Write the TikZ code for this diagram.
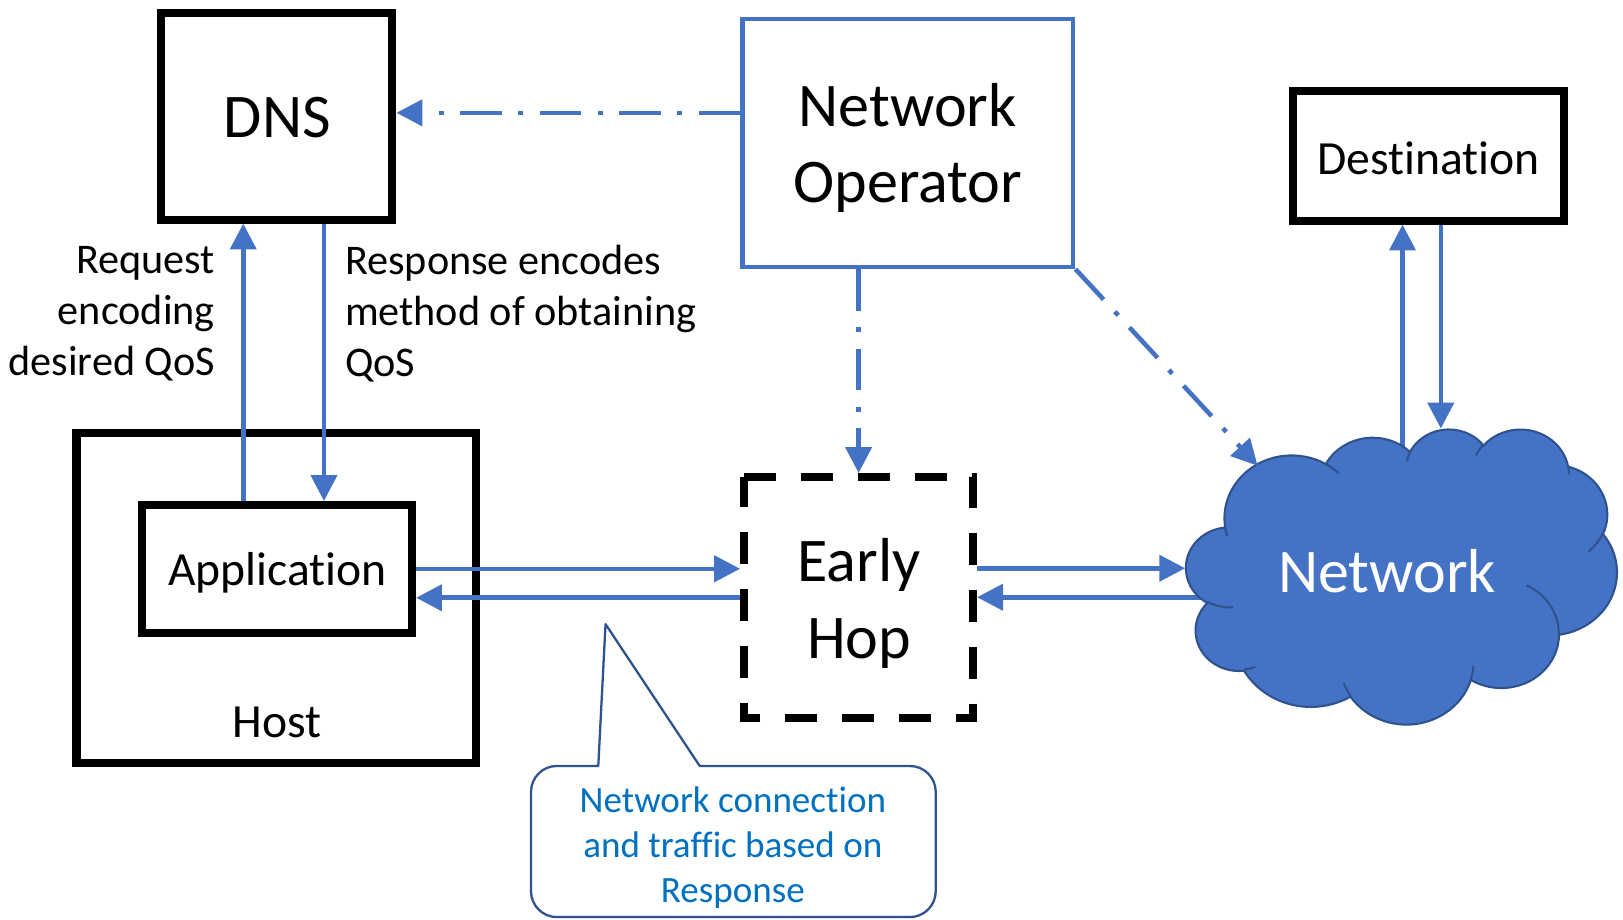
\documentclass[tikz,border=0pt]{standalone}
\usepackage{fontspec}
\setmainfont{Carlito}[Ligatures=NoCommon, Contextuals=NoAlternate]
\usetikzlibrary{arrows.meta}
\definecolor{lineblue}{HTML}{4472C4}
\definecolor{edgeblue}{HTML}{2F528F}
\definecolor{noteblue}{HTML}{0070C0}

% one elliptical arc of the cloud outline: converts a ray angle and sweep
% into the parametric start angle and delta angle used by TikZ's arc
\newcommand\cloudarc[6]{%
  \pgfmathsetmacro\cloudtmpa{atan2((#3)*sin(#5),(#4)*cos(#5))}%
  \pgfmathsetmacro\cloudtmpb{atan2((#3)*sin((#5)+(#6)),(#4)*cos((#5)+(#6)))}%
  \pgfmathsetmacro\cloudtmpd{\cloudtmpb-\cloudtmpa}%
  \pgfmathsetmacro\cloudtmpd{\cloudtmpd+360*((#6)>0)*(\cloudtmpd<0)-360*((#6)<0)*(\cloudtmpd>0)}%
  \xdef#1{\cloudtmpa}\xdef#2{\cloudtmpd}%
}

\begin{document}
\begin{tikzpicture}[x=0.5pt,y=-0.5pt,
  box/.style={draw=black, line width=3.9pt, inner sep=0pt},
  opbox/.style={draw=lineblue, line width=2.2pt, inner sep=0pt},
  hoparea/.style={inner sep=0pt, outer sep=0pt},
  hopline/.style={draw=black, line width=3.9pt, dash pattern=on 15.5pt off 12pt},
  bigtxt/.style={font=\fontsize{30}{37}\selectfont, align=center, inner sep=0pt},
  midtxt/.style={font=\fontsize{23}{28}\selectfont, inner sep=0pt},
  lbltxt/.style={font=\fontsize{20.4}{24.5}\selectfont, inner sep=0pt},
  notetxt/.style={font=\fontsize{17.9}{21.75}\selectfont, text=noteblue, align=center, inner sep=0pt},
  flow/.style={draw=lineblue, line width=2.2pt, -{Triangle[length=12.5pt,width=12.5pt]}},
  ctrl/.style={flow, dash pattern=on 20pt off 8pt on 2.4pt off 8pt}]
\useasboundingbox (0,0) rectangle (1568,888);

% ---------- cloud outline angles ----------
\cloudarc\cloudSA\cloudDA{67.53}{91.90}{-190.48748}{123.78053}
\cloudarc\cloudSB\cloudDB{53.33}{72.67}{-144.10238}{89.94523}
\cloudarc\cloudSC\cloudDC{43.65}{59.45}{-145.80792}{99.72302}
\cloudarc\cloudSD\cloudDD{48.57}{65.95}{-130.98607}{117.24173}
\cloudarc\cloudSE\cloudDE{53.33}{72.73}{-78.70888}{109.02692}
\cloudarc\cloudSF\cloudDF{67.75}{92.20}{-46.26725}{130.269}
\cloudarc\cloudSG\cloudDG{57.85}{78.67}{0.62502}{114.03333}
\cloudarc\cloudSH\cloudDH{67.52}{92.15}{22.4516}{115.17255}
\cloudarc\cloudSI\cloudDI{77.20}{105.43}{66.24263}{75.71102}
\cloudarc\cloudSJ\cloudDJ{43.60}{59.18}{-274.94208}{146.73557}
\cloudarc\cloudSK\cloudDK{43.45}{59.45}{-246.8285}{152.51885}
% inner crease arcs
\cloudarc\cloudSa\cloudDa{43.45}{59.45}{86.742}{26.4295}
\cloudarc\cloudSb\cloudDb{43.60}{59.18}{73.61047}{11.44747}
\cloudarc\cloudSc\cloudDc{67.52}{92.15}{137.62415}{14.0811}
\cloudarc\cloudSd\cloudDd{67.52}{92.15}{6.45327}{15.99835}
\cloudarc\cloudSe\cloudDe{57.85}{78.67}{-70.29235}{70.91737}
\cloudarc\cloudSf\cloudDf{53.33}{72.73}{30.31803}{27.7515}
\cloudarc\cloudSg\cloudDg{48.57}{65.95}{-13.74433}{14.8589}
\cloudarc\cloudSh\cloudDh{48.57}{65.95}{-149.18145}{18.19537}
\cloudarc\cloudSi\cloudDi{43.65}{59.45}{-163.49427}{17.68635}
\cloudarc\cloudSj\cloudDj{67.53}{91.90}{-66.70695}{12.31935}
\cloudarc\cloudSk\cloudDk{67.53}{91.90}{157.65435}{11.85817}

% ---------- boxes ----------
\node[box, minimum width=111.6pt, minimum height=99.6pt] (dns) at (267.5,112.5) {};
\node[bigtxt] (dnstxt) at (268,114) {DNS};
\node[opbox, minimum width=159.8pt, minimum height=119.8pt] (netop) at (877,138) {};
\node[bigtxt] (netoptxt) at (877,143) {Network\\Operator};
\node[box, minimum width=131.1pt, minimum height=62.6pt] (dst) at (1380,150.5) {};
\node[midtxt] (dsttxt) at (1380,153) {Destination};
\node[box, minimum width=193.1pt, minimum height=159.6pt] (host) at (267,577.5) {};
\node[midtxt] (hosttxt) at (268,698) {Host};
\node[box, minimum width=130.6pt, minimum height=61.6pt] (app) at (267.5,549.5) {};
\node[midtxt] (apptxt) at (268,553) {Application};
\node[hoparea, minimum width=114.5pt, minimum height=120.5pt] (eh) at (829.5,577.5) {};
\draw[hopline] ([shift={(1.95pt,-1.95pt)}]eh.north west) -- ([shift={(-1.95pt,-1.95pt)}]eh.north east)
  -- ([shift={(-1.95pt,1.95pt)}]eh.south east) -- ([shift={(1.95pt,1.95pt)}]eh.south west) -- cycle;
\node[bigtxt] (ehtxt) at (830,583) {Early\\Hop};

% ---------- points on the cloud outline ----------
\coordinate (cloudIn) at (1145,549);
\coordinate (cloudOut) at (1180,577);
\coordinate (cloudUp) at (1355,450);
\coordinate (cloudTop) at (1392,414);
\coordinate (cloudNO) at (1215,450);

% connectors that start inside the cloud are drawn first
\draw[flow] (cloudOut) -- (cloudOut -| eh.east);
\draw[flow] (cloudUp) -- (cloudUp |- dst.south);

% ---------- cloud ----------
\begin{scope}[shift={(1146,414)}, x=0.48148pt, y=-0.32986pt]
  \path[fill=lineblue, draw=edgeblue, line width=1pt] (39.00,143.70)
    arc[start angle=\cloudSA, delta angle=\cloudDA, x radius=67.53, y radius=91.90]
    arc[start angle=\cloudSB, delta angle=\cloudDB, x radius=53.33, y radius=72.67]
    arc[start angle=\cloudSC, delta angle=\cloudDC, x radius=43.65, y radius=59.45]
    arc[start angle=\cloudSD, delta angle=\cloudDD, x radius=48.57, y radius=65.95]
    arc[start angle=\cloudSE, delta angle=\cloudDE, x radius=53.33, y radius=72.73]
    arc[start angle=\cloudSF, delta angle=\cloudDF, x radius=67.75, y radius=92.20]
    arc[start angle=\cloudSG, delta angle=\cloudDG, x radius=57.85, y radius=78.67]
    arc[start angle=\cloudSH, delta angle=\cloudDH, x radius=67.52, y radius=92.15]
    arc[start angle=\cloudSI, delta angle=\cloudDI, x radius=77.20, y radius=105.43]
    arc[start angle=\cloudSJ, delta angle=\cloudDJ, x radius=43.60, y radius=59.18]
    arc[start angle=\cloudSK, delta angle=\cloudDK, x radius=43.45, y radius=59.45]
    -- cycle;
  \draw[edgeblue, line width=1pt]
    (46.93,261.77) arc[start angle=\cloudSa, delta angle=\cloudDa, x radius=43.45, y radius=59.45]
    (69.28,348.99) arc[start angle=\cloudSb, delta angle=\cloudDb, x radius=43.60, y radius=59.18]
    (164.78,390.90) arc[start angle=\cloudSc, delta angle=\cloudDc, x radius=67.52, y radius=92.15]
    (288.27,347.51) arc[start angle=\cloudSd, delta angle=\cloudDd, x radius=67.52, y radius=92.15]
    (341.29,229.54) arc[start angle=\cloudSe, delta angle=\cloudDe, x radius=57.85, y radius=78.67]
    (417.98,153.54) arc[start angle=\cloudSf, delta angle=\cloudDf, x radius=53.33, y radius=72.73]
    (383.24,54.26) arc[start angle=\cloudSg, delta angle=\cloudDg, x radius=48.57, y radius=65.95]
    (290.78,39.52) arc[start angle=\cloudSh, delta angle=\cloudDh, x radius=48.57, y radius=65.95]
    (221.41,47.20) arc[start angle=\cloudSi, delta angle=\cloudDi, x radius=43.65, y radius=59.45]
    (140.00,51.92) arc[start angle=\cloudSj, delta angle=\cloudDj, x radius=67.53, y radius=91.90]
    (41.27,157.89) arc[start angle=\cloudSk, delta angle=\cloudDk, x radius=67.53, y radius=91.90];
\end{scope}
\node[bigtxt, text=white] (nettxt) at (1340,552) {Network};

% ---------- data connectors ----------
\draw[flow] (app.east) -- (app.east -| eh.west);
\draw[flow] (eh.west) -- (eh.west -| app.east);
\draw[flow] (eh.east |- cloudIn) -- (cloudIn);
\draw[flow] ([xshift=-16.25pt]app.north) -- ([xshift=-16.25pt]app.north |- dns.south);
\draw[flow] ([xshift=22.75pt]dns.south) -- ([xshift=22.75pt]dns.south |- app.north);
\draw[flow] (dst.south -| cloudTop) -- (cloudTop);

% ---------- operator control connectors ----------
\draw[ctrl] ([yshift=1.75pt]netop.west |- dns.east) -- ([yshift=1.75pt]dns.east);
\draw[ctrl] (eh.north |- netop.south) -- (eh.north);
\draw[ctrl] (netop.south east) -- (cloudNO);

% ---------- labels ----------
\node[lbltxt, align=right, anchor=east] (reqtxt) at (208,303) {Request\\encoding\\desired QoS};
\node[lbltxt, align=left, anchor=west] (resptxt) at (333,303) {Response encodes\\method of obtaining\\QoS};

% ---------- callout ----------
\draw[edgeblue, line width=1.1pt, fill=white, line join=round]
  (585,603) -- (676,740) -- (879,740) arc[start angle=-90, end angle=0, radius=25]
  -- (904,861) arc[start angle=0, end angle=90, radius=25]
  -- (538,886) arc[start angle=90, end angle=180, radius=25]
  -- (513,765) arc[start angle=180, end angle=270, radius=25]
  -- (578,740) -- cycle;
\node[notetxt] (note) at (708,819) {Network connection\\and traffic based on\\Response};
\end{tikzpicture}
\end{document}
